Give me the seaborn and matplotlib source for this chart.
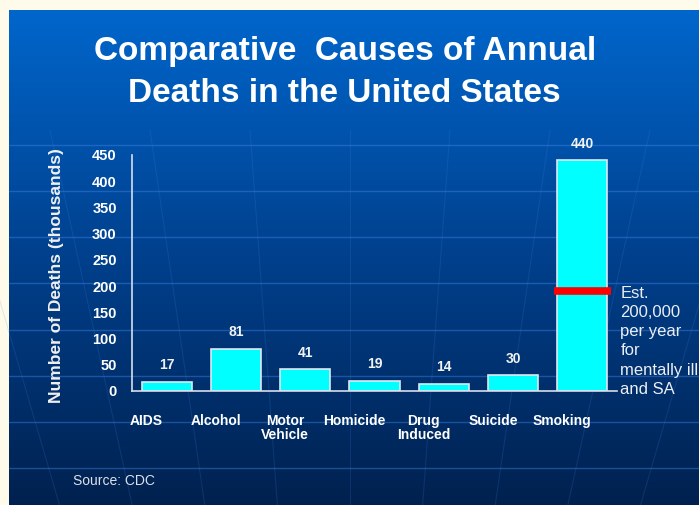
import numpy as np
import matplotlib
matplotlib.use("Agg")
import matplotlib.pyplot as plt
import matplotlib.transforms as mtransforms
import seaborn as sns

# データ
causes = ["AIDS", "Alcohol", "Motor\nVehicle", "Homicide", "Drug\nInduced", "Suicide", "Smoking"]
deaths = [17, 81, 41, 19, 14, 30, 440]
y_ticks = [0, 50, 100, 150, 200, 250, 300, 350, 400, 450]
mental_ill_est = 190
mental_ill_note = "Est.\n200,000\nper year\nfor\nmentally ill\nand SA"
title_lines = ["Comparative  Causes of Annual", "Deaths in the United States"]
y_label = "Number of Deaths (thousands)"
source = "Source: CDC"

sns.set_theme(style="white")
plt.rcParams["font.family"] = ["Liberation Sans", "DejaVu Sans"]

W, H = 699, 505
fig = plt.figure(figsize=(W / 100, H / 100), dpi=100)
fig.patch.set_facecolor("#FFFBEA")

# 背景（青のグラデーション + 装飾線）
bg = fig.add_axes([0, 0, 1, 1], zorder=-10)
bg.axis("off")
rows = np.linspace(0, 1, 256)
r = np.zeros_like(rows)
g = np.interp(rows, [0, 0.5, 1], [0.40, 0.25, 0.13])
b = np.interp(rows, [0, 0.5, 1], [0.80, 0.55, 0.31])
grad = np.stack([r, g, b], axis=1)[:, None, :]
bg.imshow(grad, extent=[9, W, H, 10], aspect="auto", interpolation="bilinear")
for yy in np.linspace(145, 468, 8):
    bg.plot([9, W], [yy, yy], color="#3C82E6", alpha=0.45, lw=1.0)
fx, fy = 350, 1500
for xt in np.linspace(-350, 1050, 15):
    bg.plot([xt, fx + (xt - fx) * 0.05], [130, fy * 0.95 + 130 * 0.05],
            color="#4A8AE8", alpha=0.16, lw=0.8)
bg.set_xlim(0, W)
bg.set_ylim(H, 0)

# メインの棒グラフ
ax = fig.add_axes([132 / W, 1 - 391 / H, 485 / W, 236 / H])
ax.set_facecolor("none")
sns.barplot(x=causes, y=deaths, color="#00FFFF", saturation=1, width=0.725,
            edgecolor="#E0E6F0", linewidth=1.2, ax=ax)
ax.set_xlim(-0.5, len(causes) - 0.5)
ax.set_ylim(0, 450)
ax.set_yticks(y_ticks)
ax.set_xlabel("")
ax.set_ylabel("")
for s in ["top", "right"]:
    ax.spines[s].set_visible(False)
for s in ["left", "bottom"]:
    ax.spines[s].set_color("#D8DEEA")
    ax.spines[s].set_linewidth(1.2)
ax.tick_params(axis="y", length=0, pad=11, labelsize=10.5, labelcolor="white")
ax.tick_params(axis="x", length=0, pad=16.5, labelsize=10, labelcolor="white")
for lab in ax.get_yticklabels() + ax.get_xticklabels():
    lab.set_fontweight("bold")
for lab in ax.get_xticklabels():
    lab.set_linespacing(1.05)

ax.bar_label(ax.containers[0], labels=[str(v) for v in deaths], padding=7,
             color="#F2F2F2", fontsize=10, fontweight="bold")

# 喫煙の棒に赤線と注記
smk = causes.index("Smoking")
ax.hlines(mental_ill_est, smk - 0.41, smk + 0.41, color="#FF0000", lw=5.5, zorder=5)
ax.annotate(mental_ill_note, xy=(smk + 0.41, mental_ill_est), xytext=(7, 4),
            textcoords="offset points", ha="left", va="top", fontsize=12,
            color="#ECEEF4", linespacing=1.35, annotation_clip=False)

# タイトル・軸ラベル・出典
fig.text(345 / W, 1 - 60 / H, title_lines[0], ha="center", va="baseline",
         fontsize=24, fontweight="bold", color="white")
fig.text(344 / W, 1 - 102 / H, title_lines[1], ha="center", va="baseline",
         fontsize=24, fontweight="bold", color="white")
fig.text(57 / W, 1 - 276 / H, y_label, rotation=90, ha="center", va="center",
         fontsize=12.5, fontweight="bold", color="#F0F0F0")
fig.text(73 / W, 1 - 481 / H, source, ha="left", va="center",
         fontsize=10, color="#DCE0EA")

# カテゴリラベルを少し左へずらす
shift = mtransforms.ScaledTranslation(-20 / 100, 0, fig.dpi_scale_trans)
for lab in ax.get_xticklabels():
    lab.set_transform(lab.get_transform() + shift)

fig.savefig("out.png", dpi=100, facecolor=fig.get_facecolor())
